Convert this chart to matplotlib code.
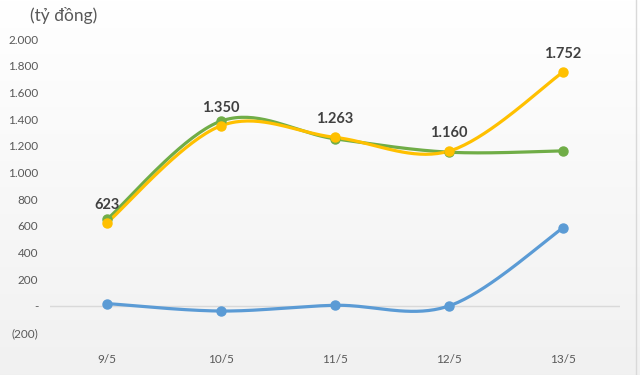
import matplotlib
matplotlib.use("Agg")
from matplotlib import pyplot as plt
import numpy as np

days = ["9/5", "10/5", "11/5", "12/5", "13/5"]
green_vals = [648, 1385, 1252, 1152, 1162]
yellow_vals = [623, 1350, 1263, 1160, 1752]
blue_vals = [18, -38, 5, 0, 585]
label_vals = ["623", "1.350", "1.263", "1.160", "1.752"]
y_ticks = [-200, 0, 200, 400, 600, 800, 1000, 1200, 1400, 1600, 1800, 2000]


def smooth(x, y, n=40):
    # Catmull-Rom style curve through the points (like Excel "smoothed line")
    x = np.asarray(x, float)
    y = np.asarray(y, float)
    px = np.concatenate([[x[0]], x, [x[-1]]])
    py = np.concatenate([[y[0]], y, [y[-1]]])
    xs, ys = [], []
    for i in range(1, len(px) - 2):
        t = np.linspace(0, 1, n)
        p0, p1, p2, p3 = (np.array([px[j], py[j]]) for j in range(i - 1, i + 3))
        c1 = p1 + (p2 - p0) / 6
        c2 = p2 - (p3 - p1) / 6
        b = ((1 - t) ** 3)[:, None] * p1 + (3 * (1 - t) ** 2 * t)[:, None] * c1 \
            + (3 * (1 - t) * t ** 2)[:, None] * c2 + (t ** 3)[:, None] * p2
        xs.append(b[:, 0])
        ys.append(b[:, 1])
    return np.concatenate(xs), np.concatenate(ys)


def fmt(v):
    if v == 0:
        return "-"
    s = "{:,}".format(abs(int(v))).replace(",", ".")
    return "(" + s + ")" if v < 0 else s


def main():
    plt.rcParams['font.family'] = ['Lato', 'DejaVu Sans']
    fig = plt.figure(figsize=(6.4, 3.75), dpi=100)

    # background gradient
    bg = fig.add_axes([0, 0, 1, 1], zorder=-10)
    grad = np.linspace(1.0, 0.945, 256)[:, None]
    bg.imshow(np.dstack([grad, grad, grad]), aspect="auto", extent=[0, 1, 0, 1])
    bg.plot([0.994, 0.994], [0, 1], color="#d9d9d9", lw=1)
    bg.set_xlim(0, 1)
    bg.set_ylim(0, 1)
    bg.axis("off")

    ax = fig.add_axes([50 / 640, 29 / 375, 570 / 640, 307 / 375])
    ax.patch.set_alpha(0)
    x = np.arange(len(days))

    ax.axhline(0, color="#d9d9d9", lw=1, zorder=1)

    for vals, col in [(blue_vals, "#5B9BD5"), (green_vals, "#70AD47"), (yellow_vals, "#FFC000")]:
        sx, sy = smooth(x, vals)
        ax.plot(sx, sy, color=col, lw=2.3, zorder=3, solid_capstyle="round")
        ax.plot(x, vals, "o", color=col, ms=6.5, zorder=4)

    for xi, v, lab in zip(x, yellow_vals, label_vals):
        ax.annotate(lab, (xi, v), xytext=(0, 13), textcoords="offset points",
                    ha="center", va="center", fontsize=10.5, fontweight="bold",
                    color="#404040")

    ax.set_xlim(-0.5, 4.5)
    ax.set_ylim(-300, 2000)
    ax.set_yticks(y_ticks)
    ax.set_yticklabels([fmt(v) for v in y_ticks])
    ax.set_xticks(x)
    ax.set_xticklabels(days)
    ax.tick_params(axis="both", length=0, labelsize=8.5, colors="#595959")
    ax.tick_params(axis="y", pad=8.5)
    ax.tick_params(axis="x", pad=6)
    for s in ax.spines.values():
        s.set_visible(False)

    fig.text(30 / 640, 1 - 15 / 375, "(tỷ đồng)", fontsize=12.5, color="#595959",
             ha="left", va="center")

    fig.savefig("out.png", dpi=100)


if __name__ == '__main__':
    main()
